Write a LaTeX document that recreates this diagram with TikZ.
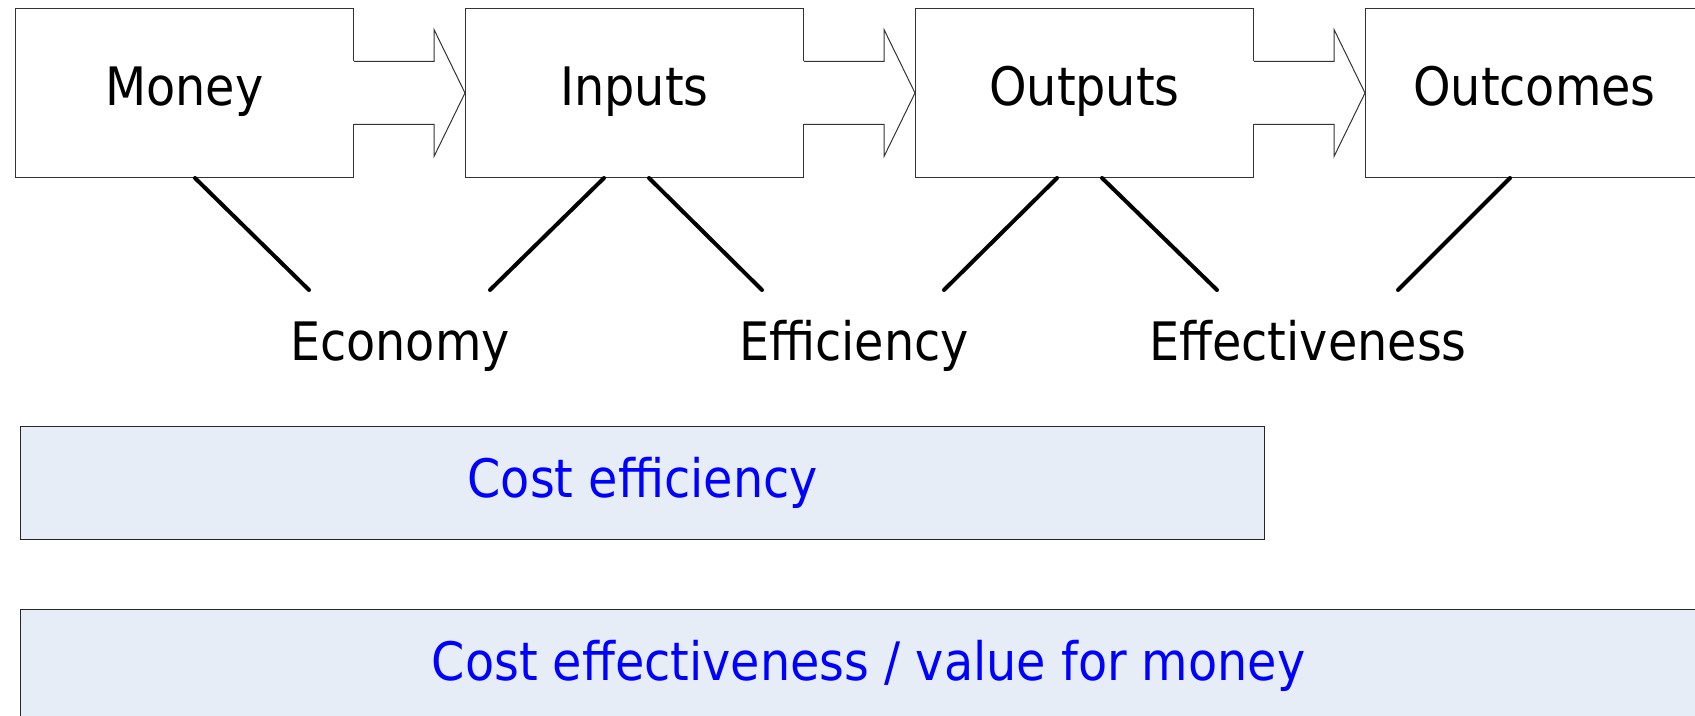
\documentclass[tikz,border=0pt]{standalone}
\usepackage{fontspec}
\setmainfont{DejaVu Sans Condensed}
\usetikzlibrary{positioning, calc}
\definecolor{barblue}{RGB}{230,237,247}
\definecolor{bartext}{RGB}{0,0,255}
\tikzset{
  stage/.style={draw=black!80,line width=.5pt,fill=white,minimum width=169pt,minimum height=84.5pt,inner sep=0pt,text height=1.35em,text depth=.1em,font=\fontsize{26.5}{30}\selectfont},
  measure/.style={inner sep=0pt,anchor=base,font=\fontsize{26.5}{30}\selectfont},
  costbar/.style={draw=black!85,line width=.6pt,fill=barblue,text=bartext,inner sep=0pt,anchor=north west,font=\fontsize{26.5}{30}\selectfont},
  flow/.style={draw=black!80,line width=.5pt,line join=miter},
  link/.style={line width=2pt,line cap=round,black},
}

\begin{document}
\begin{tikzpicture}[x=0.5pt,y=-0.5pt]
  \useasboundingbox (0,0) rectangle (1695,716);
  % results chain
  \node[stage,anchor=north west] (money) at (15,8) {Money};
  \node[stage,right=55.5pt of money] (inputs) {Inputs};
  \node[stage,right=55.5pt of inputs] (outputs) {Outputs};
  \node[stage,right=55.5pt of outputs] (outcomes) {Outcomes};
  \foreach \a/\b in {money/inputs,inputs/outputs,outputs/outcomes}{
    \fill[white] ($(\a.east)+(-1,-31.5)$) rectangle ++(3,63);
    \draw[flow] ($(\a.east)+(0,-31.5)$) -- ++(80,0) -- ++(0,-32) -- (\b.west)
      -- ($(\a.east)+(80,63.5)$) -- ++(0,-32) -- ++(-80,0);
  }
  % the three E's
  \node[measure] (economy) at (400,360) {Economy};
  \node[measure] (efficiency) at (854,360) {Efficiency};
  \node[measure] (effectiveness) at (1308,360) {Effectiveness};
  \draw[link] ($(money.south west)+(180,0)$) -- ($(economy.base)+(-91,-70)$);
  \draw[link] ($(inputs.south west)+(139,0)$) -- ($(economy.base)+(90,-70)$);
  \draw[link] ($(inputs.south west)+(184,0)$) -- ($(efficiency.base)+(-92,-70)$);
  \draw[link] ($(outputs.south west)+(142,0)$) -- ($(efficiency.base)+(90,-70)$);
  \draw[link] ($(outputs.south west)+(187,0)$) -- ($(effectiveness.base)+(-91,-70)$);
  \draw[link] ($(outcomes.south west)+(145,0)$) -- ($(effectiveness.base)+(90,-70)$);
  % cost measures
  \node[costbar,minimum width=622pt,minimum height=56.5pt] (costeff) at (20,426) {Cost efficiency};
  \node[costbar,minimum width=848pt,minimum height=56pt] (vfm) at (20,609) {Cost effectiveness / value for money};
\end{tikzpicture}
\end{document}
